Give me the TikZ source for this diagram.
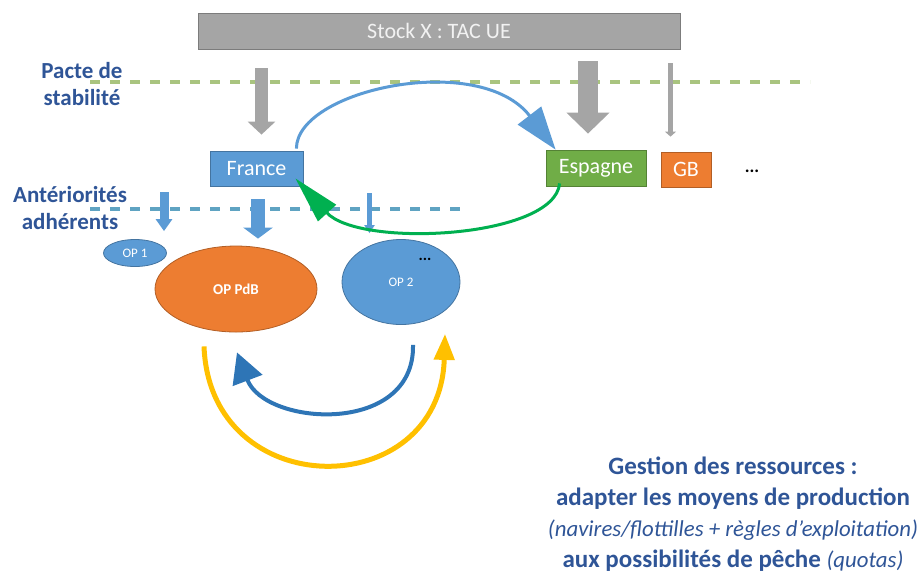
\documentclass[tikz,border=0pt]{standalone}
\usepackage{fontspec}
\setmainfont{Carlito}
\usetikzlibrary{arrows.meta, shapes.geometric, calc}
\definecolor{titleblue}{HTML}{2F5597}
\definecolor{boxblue}{HTML}{5B9BD5}
\definecolor{boxgreen}{HTML}{70AD47}
\definecolor{boxorange}{HTML}{ED7D31}
\definecolor{stockgray}{HTML}{A5A5A5}
\definecolor{arcgreen}{HTML}{00B050}
\definecolor{arcyellow}{HTML}{FFC000}
\definecolor{arcblue}{HTML}{2E75B6}
\definecolor{pactgreen}{HTML}{A9C47F}
\definecolor{antblue}{HTML}{5FA3C2}
\tikzset{>=stealth}

\begin{document}
\begin{tikzpicture}[x=0.5pt, y=-0.5pt,
    pays/.style={draw=#1!75!black, fill=#1, text=white, inner sep=0pt,
      font=\fontsize{11}{13}\selectfont},
    op/.style={ellipse, draw=#1!75!black, fill=#1, text=white, inner sep=0pt},
    fleche/.style n args={4}{draw=#1, line width=#2, -{Triangle[width=#3, length=#4]}},
    etiquette/.style={text=titleblue, align=center, font=\fontsize{11.5}{13.5}\selectfont\bfseries},
    dashline/.style={draw=#1, line width=2pt, dash pattern=on 5pt off 5pt}]
    \useasboundingbox (0,0) rectangle (919,575);

    \node [pays=stockgray, text=white!95!black, minimum width=241pt, minimum height=18pt] (stock) at (439,31) {Stock X : TAC UE};

    \draw [dashline=pactgreen] (90,82) -- (810,82);
    \draw [dashline=antblue] (90,209) -- (460,209);
    \node [etiquette] (pacte) at (82,84) {Pacte de\\stabilité};
    \node [etiquette] (anteriorites) at (70,208) {Antériorités\\adhérents};

    \node [pays=boxblue, minimum width=46.5pt, minimum height=17.5pt] (france) at (256.5,168.5) {France};
    \node [pays=boxgreen, minimum width=50pt, minimum height=18pt] (espagne) at (596,168) {Espagne};
    \node [pays=boxorange, minimum width=25pt, minimum height=17.5pt] (gb) at (686,169.5) {GB};
    \node [font=\fontsize{9}{10}\selectfont\bfseries] (autres) at (752,171) {...};

    \node [op=boxblue, minimum width=31.5pt, minimum height=13.5pt, font=\fontsize{6.5}{8}\selectfont] (op1) at (135,253) {OP 1};
    \node [op=boxorange, minimum width=81pt, minimum height=43pt, font=\fontsize{7.5}{9}\selectfont\bfseries] (oppdb) at (236,289) {OP PdB};
    \node [op=boxblue, minimum width=59pt, minimum height=42.5pt, font=\fontsize{6.5}{8}\selectfont] (op2) at (401,282) {OP 2};
    \node [font=\fontsize{8}{9}\selectfont\bfseries] (opdots) at (425,259) {...};

    \coordinate (versfrance) at (261.5,68);
    \coordinate (versespagne) at (588,61);
    \coordinate (versgb) at (670.5,63);
    \draw [fleche={stockgray}{6.5pt}{13.5pt}{6.5pt}] (versfrance) -- ($(versfrance |- france.north)+(0,-16)$);
    \draw [fleche={stockgray}{10pt}{21pt}{10.5pt}] (versespagne) -- ($(versespagne |- espagne.north)+(0,-16)$);
    \draw [fleche={stockgray}{2.5pt}{5.5pt}{2.5pt}] (versgb) -- ($(versgb |- gb.north)+(0,-15)$);

    \coordinate (versop1) at (164,192);
    \coordinate (versoppdb) at (258,199);
    \coordinate (versop2) at (369.5,193);
    \draw [fleche={boxblue}{4.5pt}{8pt}{6pt}] (versop1) -- ($(versop1 |- op1.north)+(0,-8)$);
    \draw [fleche={boxblue}{7pt}{14.5pt}{5.5pt}] (versoppdb) -- ($(versoppdb |- oppdb.north)+(0,-7)$);
    \draw [fleche={boxblue}{2.5pt}{5pt}{4pt}] (versop2) -- ($(versop2 |- op2.north)+(0,-6)$);

    \draw [draw=boxblue, line width=1.5pt, -{Triangle[width=14.5pt, length=21.5pt]}]
      ($(france.north east)+(-7,-2)$) .. controls +(0,-59) and +(-76,-99) .. ($(espagne.north west)+(10,0)$);
    \draw [draw=arcgreen, line width=1.5pt, -{Triangle[width=12pt, length=23.5pt]}]
      ($(espagne.south west)+(14,-3)$) .. controls +(-5,55) and +(64,70) .. ($(france.south east)+(-8,-8)$);

    \draw [draw=arcyellow, line width=2.5pt, -{Triangle[width=10pt, length=13pt]}]
      ($(oppdb.south)+(-32,14)$) .. controls +(6,158) and +(-5,170) .. ($(op2.south)+(44,9)$);
    \draw [draw=arcblue, line width=2pt, -{Triangle[width=15.5pt, length=15pt]}]
      ($(op2.south)+(12,20)$) .. controls +(2,91) and +(28,74) .. ($(oppdb.south)+(1,20)$);

    \node [text=titleblue, align=center, font=\fontsize{12.5}{15.5}\selectfont\bfseries] (gestion) at (733,514)
      {Gestion des ressources :\\adapter les moyens de production\\
       {\fontsize{11.4}{15.5}\selectfont\mdseries\itshape (navires/flottilles + règles d’exploitation)}\\
       aux possibilités de pêche {\fontsize{11.4}{15.5}\selectfont\mdseries\itshape (quotas)}};
\end{tikzpicture}
\end{document}
